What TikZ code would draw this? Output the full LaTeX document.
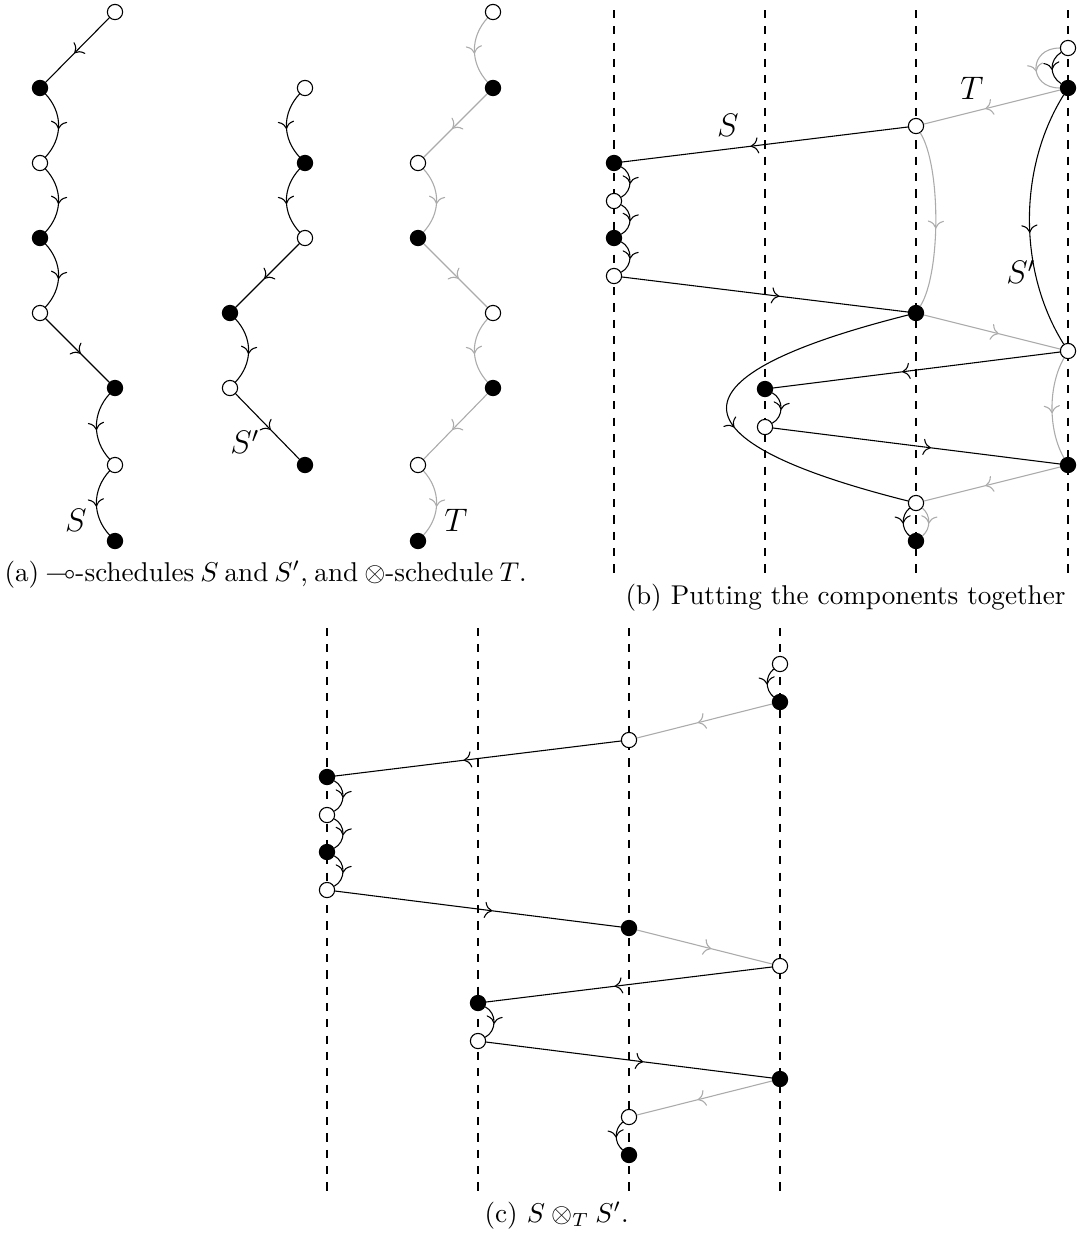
\documentclass[tikz,border=0pt]{standalone}
\usepackage{amssymb}
\usetikzlibrary{decorations.markings,arrows.meta}

\begin{document}
\begin{tikzpicture}[x=0.368pt, y=-0.368pt,
  wn/.style={circle, draw, fill=white, inner sep=0pt, minimum size=5.6pt, line width=0.4pt},
  bn/.style={circle, draw, fill=black, inner sep=0pt, minimum size=5.6pt, line width=0.4pt},
  midarr/.style={postaction={decorate},
    decoration={markings, mark=at position 0.55 with {\arrow{>[scale=1.15]}}}},
  se/.style={midarr, line width=0.4pt},
  te/.style={midarr, color=black!33, line width=0.4pt},
  guide/.style={dashed, line width=0.4pt},
  lbl/.style={font=\large, inner sep=1pt},
  captxt/.style={anchor=base west, inner sep=0pt}]

\useasboundingbox (0,0) rectangle (1077,1238);

% ---------- (a) the three schedules ----------
% S
\node[wn] (a1) at (115,12) {};
\node[bn] (a2) at (40,88) {};
\node[wn] (a3) at (40,163) {};
\node[bn] (a4) at (40,238) {};
\node[wn] (a5) at (40,313) {};
\node[bn] (a6) at (115,388) {};
\node[wn] (a7) at (115,465) {};
\node[bn] (a8) at (115,541) {};
\draw[se] (a1) -- (a2);
\draw[se] (a2) .. controls +(23,25) and +(23,-25) .. (a3);
\draw[se] (a3) .. controls +(23,25) and +(23,-25) .. (a4);
\draw[se] (a4) .. controls +(23,25) and +(23,-25) .. (a5);
\draw[se] (a5) -- (a6);
\draw[se] (a6) .. controls +(-23,25) and +(-23,-25) .. (a7);
\draw[se] (a7) .. controls +(-23,25) and +(-23,-25) .. (a8);
\node[lbl] (lS) at (76,520) {$S$};

% S'
\node[wn] (p1) at (305,88) {};
\node[bn] (p2) at (305,163) {};
\node[wn] (p3) at (305,238) {};
\node[bn] (p4) at (230,313) {};
\node[wn] (p5) at (230,388) {};
\node[bn] (p6) at (305,465) {};
\draw[se] (p1) .. controls +(-23,25) and +(-23,-25) .. (p2);
\draw[se] (p2) .. controls +(-23,25) and +(-23,-25) .. (p3);
\draw[se] (p3) -- (p4);
\draw[se] (p4) .. controls +(23,25) and +(23,-25) .. (p5);
\draw[se] (p5) -- (p6);
\node[lbl] (lSp) at (245,442) {$S'$};

% T
\node[wn] (t1) at (493,12) {};
\node[bn] (t2) at (493,88) {};
\node[wn] (t3) at (418,163) {};
\node[bn] (t4) at (418,238) {};
\node[wn] (t5) at (493,313) {};
\node[bn] (t6) at (493,388) {};
\node[wn] (t7) at (418,465) {};
\node[bn] (t8) at (418,541) {};
\draw[te] (t1) .. controls +(-23,25) and +(-23,-25) .. (t2);
\draw[te] (t2) -- (t3);
\draw[te] (t3) .. controls +(23,25) and +(23,-25) .. (t4);
\draw[te] (t4) -- (t5);
\draw[te] (t5) .. controls +(-23,25) and +(-23,-25) .. (t6);
\draw[te] (t6) -- (t7);
\draw[te] (t7) .. controls +(23,25) and +(23,-25) .. (t8);
\node[lbl] (lT) at (456,520) {$T$};

% caption set in a narrow box, so its spaces are shrunk
\node[captxt] (capa) at (4,581)
  {\hbox to 190pt{(a) $\multimap$-schedules $S$ and $S'$, and $\otimes$-schedule $T$.}};

% ---------- (b) components put together ----------
\foreach \x/\n in {614/g1, 765/g2, 916/g3, 1068/g4}
  \draw[guide] (\x,10) coordinate (\n top) -- (\x,580) coordinate (\n bot);

\node[wn] (b1) at (1068,48) {};
\node[bn] (b2) at (1068,88) {};
\node[wn] (b3) at (916,126) {};
\node[bn] (b4) at (614,163) {};
\node[wn] (b5) at (614,201) {};
\node[bn] (b6) at (614,238) {};
\node[wn] (b7) at (614,276) {};
\node[bn] (b8) at (916,313) {};
\node[wn] (b9) at (1068,351) {};
\node[bn] (b10) at (765,389) {};
\node[wn] (b11) at (765,427) {};
\node[bn] (b12) at (1068,465) {};
\node[wn] (b13) at (916,503) {};
\node[bn] (b14) at (916,541) {};

% T in grey
\draw[te] (b1) .. controls +(-40,0) and +(-40,0) .. (b2);
\draw[te] (b2) -- (b3);
\draw[te] (b3) .. controls +(25,40) and +(25,-40) .. (b8);
\draw[te] (b8) -- (b9);
\draw[te] (b9) .. controls +(-20,35) and +(-20,-35) .. (b12);
\draw[te] (b12) -- (b13);
\draw[te] (b13) .. controls +(15,12) and +(15,-12) .. (b14);

% S
\draw[se] (b3) -- (b4);
\draw[se] (b4) .. controls +(19,10) and +(19,-10) .. (b5);
\draw[se] (b5) .. controls +(19,10) and +(19,-10) .. (b6);
\draw[se] (b6) .. controls +(19,10) and +(19,-10) .. (b7);
\draw[se] (b7) -- (b8);
\draw[se] (b8) .. controls +(-250,63) and +(-250,-63) .. (b13);
\draw[se] (b13) .. controls +(-15,12) and +(-15,-12) .. (b14);

% S'
\draw[se] (b1) .. controls +(-19,12) and +(-19,-12) .. (b2);
\draw[se] (b2) .. controls +(-50,80) and +(-50,-80) .. (b9);
\draw[se] (b9) -- (b10);
\draw[se] (b10) .. controls +(19,10) and +(19,-10) .. (b11);
\draw[se] (b11) -- (b12);

\node[lbl] (bS) at (728,125) {$S$};
\node[lbl] (bT) at (972,88) {$T$};
\node[lbl] (bSp) at (1021,272) {$S'$};

\node[captxt] (capb) at (625,604) {(b) Putting the components together};

% ---------- (c) the composite schedule ----------
\foreach \x/\n in {327/h1, 478/h2, 629/h3, 780/h4}
  \draw[guide] (\x,628) coordinate (\n top) -- (\x,1195) coordinate (\n bot);

\node[wn] (c1) at (780,664) {};
\node[bn] (c2) at (780,702) {};
\node[wn] (c3) at (629,740) {};
\node[bn] (c4) at (327,777) {};
\node[wn] (c5) at (327,815) {};
\node[bn] (c6) at (327,852) {};
\node[wn] (c7) at (327,890) {};
\node[bn] (c8) at (629,928) {};
\node[wn] (c9) at (780,966) {};
\node[bn] (c10) at (478,1003) {};
\node[wn] (c11) at (478,1041) {};
\node[bn] (c12) at (780,1079) {};
\node[wn] (c13) at (629,1117) {};
\node[bn] (c14) at (629,1155) {};

\draw[se] (c1) .. controls +(-15,12) and +(-15,-12) .. (c2);
\draw[te] (c2) -- (c3);
\draw[se] (c3) -- (c4);
\draw[se] (c4) .. controls +(19,10) and +(19,-10) .. (c5);
\draw[se] (c5) .. controls +(19,10) and +(19,-10) .. (c6);
\draw[se] (c6) .. controls +(19,10) and +(19,-10) .. (c7);
\draw[se] (c7) -- (c8);
\draw[te] (c8) -- (c9);
\draw[se] (c9) -- (c10);
\draw[se] (c10) .. controls +(19,10) and +(19,-10) .. (c11);
\draw[se] (c11) -- (c12);
\draw[te] (c12) -- (c13);
\draw[se] (c13) .. controls +(-15,12) and +(-15,-12) .. (c14);

\node[captxt] (capc) at (484,1222) {(c) $S \otimes_T S'$.};

\end{tikzpicture}
\end{document}
